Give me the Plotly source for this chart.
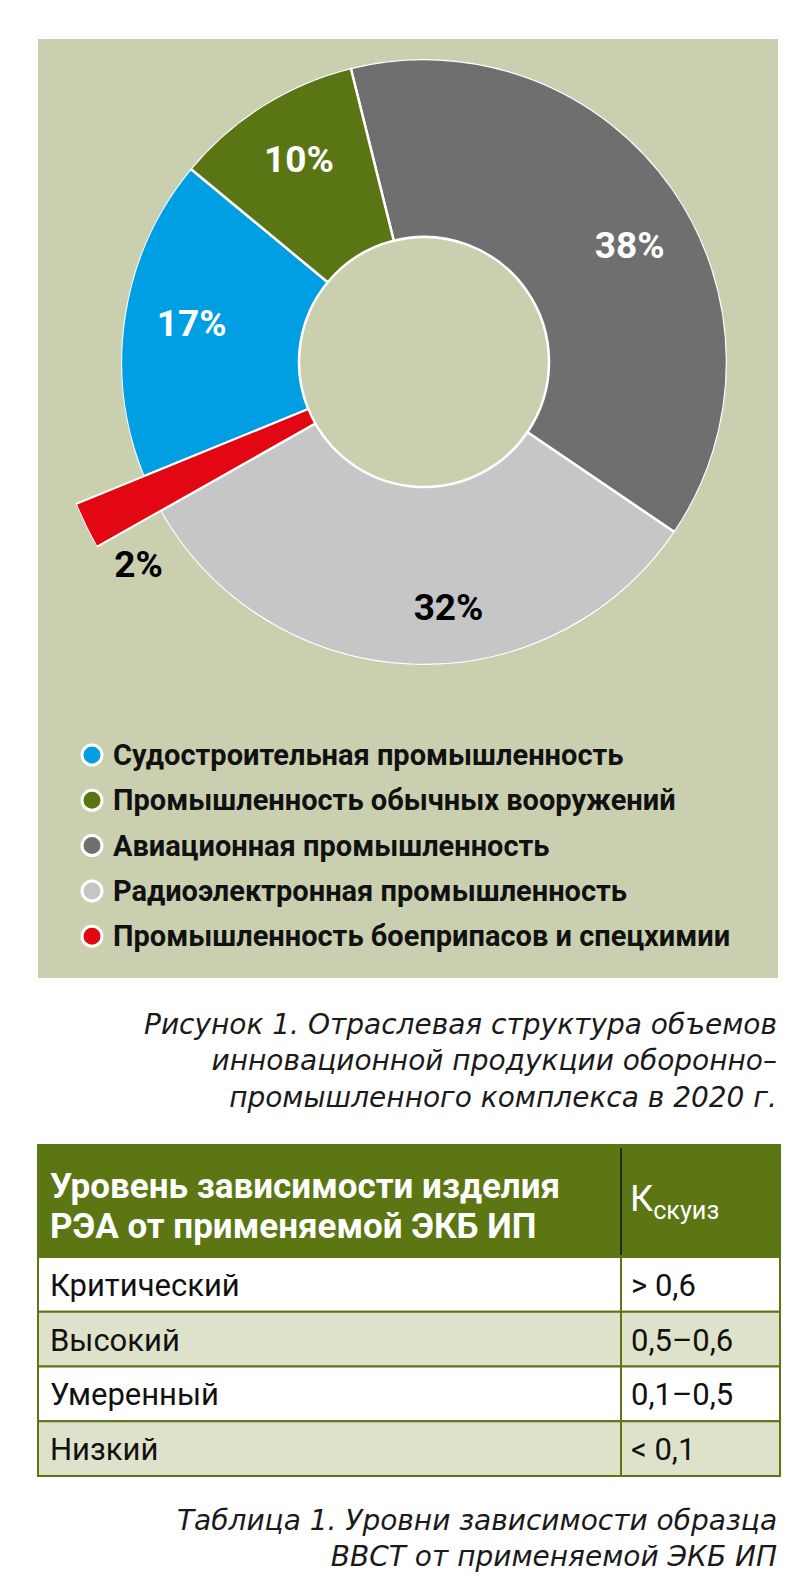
import plotly.graph_objects as go

# --- data -------------------------------------------------------------
# donut slices, listed clockwise starting with the gray one at the top
sectors = ["Авиационная промышленность",
           "Радиоэлектронная промышленность",
           "Промышленность боеприпасов и спецхимии",
           "Судостроительная промышленность",
           "Промышленность обычных вооружений"]
shares = [38, 32, 2, 17, 10]
pct_labels = ["38%", "32%", "2%", "17%", "10%"]

# legend order as printed under the chart
legend_order = [3, 4, 0, 1, 2]

# table 1
table_head = ["Уровень зависимости изделия", "РЭА от применяемой ЭКБ ИП"]
levels = ["Критический", "Высокий", "Умеренный", "Низкий"]
k_ranges = ["> 0,6", "0,5–0,6", "0,1–0,5", "< 0,1"]

fig_caption = ["Рисунок 1. Отраслевая структура объемов",
               "инновационной продукции оборонно–",
               "промышленного комплекса в 2020 г."]
tab_caption = ["Таблица 1. Уровни зависимости образца",
               "ВВСТ от применяемой ЭКБ ИП"]

# --- style ------------------------------------------------------------
colors = ["#6f6f6f", "#c6c6c6", "#e30613", "#009fe3", "#5a7513"]
text_colors = ["white", "black", "black", "white", "white"]
BG = "#cacfb0"
GREEN = "#5b7612"
ROW2 = "#dfe2cb"
COND = "Roboto, sans-serif"
ITAL = "DejaVu Sans, Noto Sans, sans-serif"

W, H = 800, 1590
CX, CY = 416, 354          # donut centre, px
R_OUT, R_IN, R_RED = 303, 125, 376
START = -14                # where the gray slice begins (deg clockwise from top)

# angles from the shares
total = sum(shares)
widths = [s / total * 360 for s in shares]
centers = []
acc = START
for w in widths:
    centers.append(acc + w / 2)
    acc += w

fig = go.Figure()

# main donut
fig.add_trace(go.Barpolar(
    theta=centers, width=widths, base=[R_IN] * 5, r=[R_OUT - R_IN] * 5,
    marker=dict(color=colors, line=dict(color="white", width=2.5)),
    subplot="polar", showlegend=False, hoverinfo="skip"))

# the red slice sticks out further -> separate lower-left sector subplot
red = 2
fig.add_trace(go.Barpolar(
    theta=[centers[red]], width=[widths[red]], base=[R_IN], r=[R_RED - R_IN],
    marker=dict(color=colors[red], line=dict(color="white", width=2)),
    subplot="polar2", showlegend=False, hoverinfo="skip"))

# percent labels
label_r = [235, 250, 352, 235, 235]
label_shift = [6, -8, -10, 0, 0]
main_idx = [0, 1, 3, 4]
fig.add_trace(go.Scatterpolar(
    theta=[centers[i] + label_shift[i] for i in main_idx],
    r=[label_r[i] for i in main_idx],
    text=[pct_labels[i] for i in main_idx], mode="text",
    textfont=dict(family=COND, size=37, weight=700,
                  color=[text_colors[i] for i in main_idx]),
    subplot="polar", showlegend=False, hoverinfo="skip"))
fig.add_trace(go.Scatterpolar(
    theta=[centers[red] + label_shift[red]], r=[label_r[red]],
    text=[pct_labels[red]], mode="text",
    textfont=dict(family=COND, size=37, weight=700, color="black"),
    subplot="polar2", showlegend=False, hoverinfo="skip", cliponaxis=False))

# legend dots on a pixel-sized overlay axis
leg_y = [747 + k * 45.3 for k in range(len(legend_order))]
fig.add_trace(go.Scatter(
    x=[84] * len(legend_order), y=leg_y, mode="markers",
    marker=dict(size=20, color=[colors[i] for i in legend_order],
                line=dict(color="white", width=3)),
    showlegend=False, hoverinfo="skip"))

ann = []
for k, i in enumerate(legend_order):
    ann.append(dict(x=103, y=leg_y[k], text=sectors[i], xanchor="left",
                    font=dict(family=COND, size=29, weight=700, color="#111")))

ann.append(dict(x=771, y=1053, text="<br>".join(fig_caption), xanchor="right",
                align="right",
                font=dict(family=ITAL, size=28, style="italic", color="#1a1a1a")))
ann.append(dict(x=771, y=1530, text="<br>".join(tab_caption), xanchor="right",
                align="right",
                font=dict(family=ITAL, size=28, style="italic", color="#1a1a1a")))

# table geometry
TX0, TX1, TSEP = 30, 772, 613
HEAD0, HEAD1 = 1137, 1249
ROW_H = 54.75

shapes = [dict(type="rect", x0=30, x1=770, y0=31, y1=970, fillcolor=BG,
               line_width=0, layer="below"),
          dict(type="rect", x0=TX0, x1=TX1, y0=HEAD0, y1=HEAD1, fillcolor=GREEN,
               line=dict(color=GREEN, width=2), layer="below"),
          dict(type="line", x0=TSEP, x1=TSEP, y0=HEAD0 + 3, y1=HEAD1 - 2,
               line=dict(color="#111", width=1.5))]

for k, line in enumerate(table_head):
    ann.append(dict(x=40, y=1178 + k * 40, text=line, xanchor="left",
                    font=dict(family=COND, size=35, weight=700, color="white")))
ann.append(dict(x=620, y=1193, text="К<sub>скуиз</sub>", xanchor="left",
                font=dict(family=COND, size=36, color="white")))

for k, (lev, kr) in enumerate(zip(levels, k_ranges)):
    y0 = HEAD1 + k * ROW_H
    shapes.append(dict(type="rect", x0=TX0, x1=TX1, y0=y0, y1=y0 + ROW_H,
                       fillcolor="white" if k % 2 == 0 else ROW2,
                       line=dict(color=GREEN, width=2), layer="below"))
    ann.append(dict(x=40, y=y0 + ROW_H / 2 + 1, text=lev, xanchor="left",
                    font=dict(family=COND, size=31, color="#111")))
    ann.append(dict(x=621, y=y0 + ROW_H / 2 + 1, text=kr, xanchor="left",
                    font=dict(family=COND, size=31, color="#111")))
shapes.append(dict(type="line", x0=TSEP, x1=TSEP, y0=HEAD1, y1=HEAD1 + 4 * ROW_H,
                   line=dict(color=GREEN, width=2)))

for a in ann:
    a.update(xref="x", yref="y", yanchor="middle", showarrow=False)

hidden_ang = dict(visible=False, rotation=90, direction="clockwise")
fig.update_layout(
    width=W, height=H, margin=dict(l=0, r=0, t=0, b=0),
    paper_bgcolor="white", plot_bgcolor="rgba(0,0,0,0)",
    xaxis=dict(range=[0, W], domain=[0, 1], visible=False, fixedrange=True),
    yaxis=dict(range=[H, 0], domain=[0, 1], visible=False, fixedrange=True),
    polar=dict(
        domain=dict(x=[(CX - R_OUT) / W, (CX + R_OUT) / W],
                    y=[1 - (CY + R_OUT) / H, 1 - (CY - R_OUT) / H]),
        bgcolor="rgba(0,0,0,0)",
        radialaxis=dict(visible=False, range=[0, R_OUT]),
        angularaxis=hidden_ang),
    polar2=dict(
        sector=[180, 270],
        domain=dict(x=[(CX - R_RED) / W, CX / W],
                    y=[1 - (CY + R_RED) / H, 1 - CY / H]),
        bgcolor="rgba(0,0,0,0)",
        radialaxis=dict(visible=False, range=[0, R_RED]),
        angularaxis=hidden_ang),
    shapes=shapes, annotations=ann)

fig.write_html("out.html")
